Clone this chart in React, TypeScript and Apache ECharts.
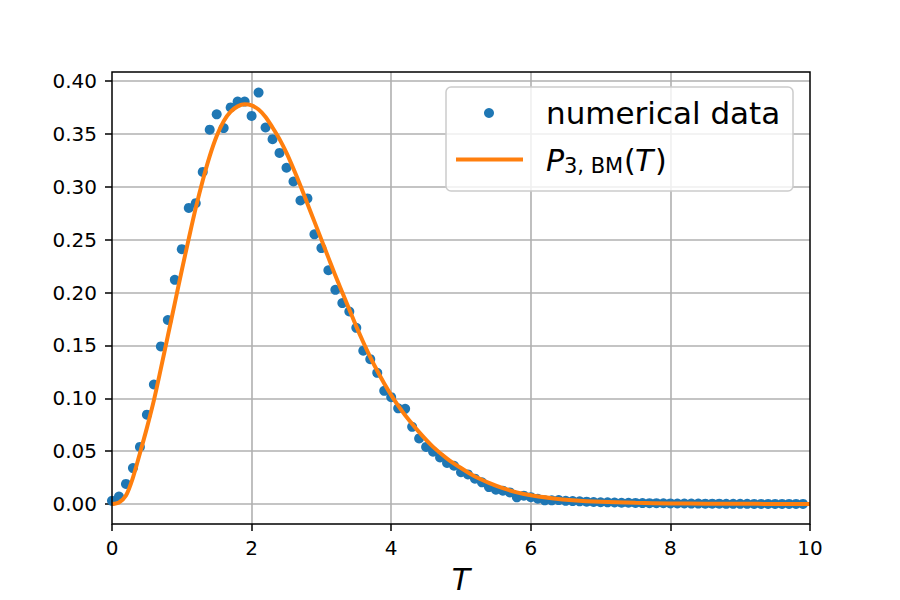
import React, { useEffect, useRef } from 'react';
import * as echarts from 'echarts';

// sample times of the numerical data
const dataT = [
  0.0, 0.1, 0.2, 0.3, 0.4, 0.5, 0.6, 0.7, 0.8, 0.9,
  1.0, 1.1, 1.2, 1.3, 1.4, 1.5, 1.6, 1.7, 1.8, 1.9,
  2.0, 2.1, 2.2, 2.3, 2.4, 2.5, 2.6, 2.7, 2.8, 2.9,
  3.0, 3.1, 3.2, 3.3, 3.4, 3.5, 3.6, 3.7, 3.8, 3.9,
  4.0, 4.1, 4.2, 4.3, 4.4, 4.5, 4.6, 4.7, 4.8, 4.9,
  5.0, 5.1, 5.2, 5.3, 5.4, 5.5, 5.6, 5.7, 5.8, 5.9,
  6.0, 6.1, 6.2, 6.3, 6.4, 6.5, 6.6, 6.7, 6.8, 6.9,
  7.0, 7.1, 7.2, 7.3, 7.4, 7.5, 7.6, 7.7, 7.8, 7.9,
  8.0, 8.1, 8.2, 8.3, 8.4, 8.5, 8.6, 8.7, 8.8, 8.9,
  9.0, 9.1, 9.2, 9.3, 9.4, 9.5, 9.6, 9.7, 9.8, 9.9,
];
// numerical data values
const dataV = [
  0.003, 0.007, 0.019, 0.034, 0.054, 0.0845, 0.113, 0.149, 0.174, 0.212,
  0.241, 0.280, 0.2845, 0.314, 0.354, 0.3685, 0.3555, 0.375, 0.3805, 0.3805,
  0.367, 0.389, 0.356, 0.345, 0.332, 0.318, 0.305, 0.287, 0.289, 0.255,
  0.242, 0.221, 0.2025, 0.190, 0.182, 0.1666, 0.145, 0.137, 0.124, 0.107,
  0.101, 0.0905, 0.090, 0.073, 0.062, 0.054, 0.0495, 0.044, 0.0388, 0.0362,
  0.030, 0.028, 0.024, 0.0205, 0.016, 0.0135, 0.0126, 0.011, 0.0063, 0.0079,
  0.0065, 0.005, 0.0035, 0.0035, 0.0037, 0.003, 0.0028, 0.0025, 0.0022, 0.0019,
  0.0017, 0.0016, 0.0014, 0.0012, 0.0012, 0.001, 0.0009, 0.0008, 0.0008, 0.0007,
  0.0006, 0.0005, 0.0005, 0.0004, 0.0004, 0.0003, 0.0003, 0.0003, 0.0002, 0.0002,
  0.0002, 0.0002, 0.0001, 0.0001, 0.0001, 0.0001, 0.0001, 0.0001, 0.0001, 0.0001,
];

// fitted curve P_{3,BM}(T)
const curveT = [
  0.0, 0.1, 0.2, 0.3, 0.4, 0.5, 0.6, 0.7, 0.8, 0.9,
  1.0, 1.1, 1.2, 1.3, 1.4, 1.5, 1.6, 1.7, 1.8, 1.9,
  2.0, 2.1, 2.2, 2.3, 2.4, 2.5, 2.6, 2.7, 2.8, 2.9,
  3.0, 3.1, 3.2, 3.3, 3.4, 3.5, 3.6, 3.7, 3.8, 3.9,
  4.0, 4.1, 4.2, 4.4, 4.6, 4.8, 5.0, 5.2, 5.4, 5.6,
  5.8, 6.0, 6.3, 6.6, 7.0, 7.5, 8.0, 8.5, 9.0, 9.5, 10.0,
];
const curveV = [
  0.0, 0.0015, 0.008, 0.025, 0.048, 0.072, 0.098, 0.128, 0.159, 0.190,
  0.221, 0.251, 0.280, 0.306, 0.329, 0.348, 0.362, 0.371, 0.376, 0.378,
  0.377, 0.373, 0.366, 0.356, 0.345, 0.332, 0.317, 0.301, 0.284, 0.267,
  0.250, 0.233, 0.216, 0.200, 0.184, 0.168, 0.153, 0.139, 0.126, 0.114,
  0.103, 0.093, 0.084, 0.068, 0.054, 0.043, 0.034, 0.026, 0.020, 0.015,
  0.011, 0.0082, 0.0055, 0.0036, 0.0021, 0.0011, 0.0006, 0.0003, 0.0002, 0.0001, 0.0001,
];

const xTicks = [0, 2, 4, 6, 8, 10];
const yTicks = [0, 0.05, 0.1, 0.15, 0.2, 0.25, 0.3, 0.35, 0.4];
const seriesNames = ['numerical data', 'P3,BM(T)'];

const FONT = 'DejaVu Sans';
const BLUE = '#1f77b4';
const ORANGE = '#ff7f0e';

export default function App() {
  const ref = useRef<HTMLDivElement>(null);
  useEffect(() => {
    const chart = echarts.init(ref.current!, null, { renderer: 'svg' });
    const scatterData = dataT.map((t, i) => [t, dataV[i]]);
    const lineData = curveT.map((t, i) => [t, curveV[i]]);
    chart.setOption({
      animation: false,
      backgroundColor: '#ffffff',
      grid: {
        left: 112,
        right: 90,
        top: 72,
        bottom: 76,
        show: true,
        borderColor: '#000000',
        borderWidth: 1.5,
        backgroundColor: 'transparent',
        z: 5,
      },
      xAxis: {
        type: 'value',
        min: xTicks[0],
        max: xTicks[xTicks.length - 1],
        interval: 2,
        name: 'T',
        nameLocation: 'middle',
        nameGap: 40,
        nameTextStyle: { fontFamily: FONT, fontSize: 30, fontStyle: 'italic', color: '#000' },
        axisLine: { show: false, onZero: false },
        axisTick: { show: true, length: 7, lineStyle: { color: '#000', width: 1.5 } },
        axisLabel: { margin: 14, fontFamily: FONT, fontSize: 20, color: '#000' },
        splitLine: { show: true, showMinLine: false, showMaxLine: false, lineStyle: { color: '#b0b0b0', width: 1.6 } },
      },
      yAxis: {
        type: 'value',
        min: -0.0189,
        max: 0.4085,
        axisLine: { show: false, onZero: false },
        axisTick: { show: true, length: 7, customValues: yTicks, lineStyle: { color: '#000', width: 1.5 } },
        axisLabel: {
          margin: 15,
          fontFamily: FONT,
          fontSize: 20,
          color: '#000',
          customValues: yTicks,
          formatter: (v: number) => v.toFixed(2),
        },
        splitLine: { show: true, lineStyle: { color: '#b0b0b0', width: 1.6 } },
      },
      series: [
        {
          name: seriesNames[0],
          type: 'scatter',
          data: scatterData,
          symbol: 'circle',
          symbolSize: 10,
          itemStyle: { color: BLUE, opacity: 1 },
          z: 3,
        },
        {
          name: seriesNames[1],
          type: 'line',
          data: lineData,
          showSymbol: false,
          smooth: 0.3,
          lineStyle: { color: ORANGE, width: 4 },
          itemStyle: { color: ORANGE },
          z: 4,
        },
      ],
      graphic: [
        {
          type: 'rect',
          z: 100,
          shape: { x: 446, y: 87, width: 347, height: 104, r: 5 },
          style: { fill: 'rgba(255,255,255,0.8)', stroke: '#cccccc', lineWidth: 1.5 },
        },
        {
          type: 'circle',
          z: 101,
          shape: { cx: 489, cy: 113, r: 5 },
          style: { fill: BLUE },
        },
        {
          type: 'line',
          z: 101,
          shape: { x1: 456, y1: 159.5, x2: 523, y2: 159.5 },
          style: { stroke: ORANGE, lineWidth: 4 },
        },
        {
          type: 'text',
          z: 101,
          style: {
            text: 'numerical data',
            x: 546, y: 113,
            fontFamily: FONT, fontSize: 31, fill: '#000',
            textAlign: 'left', textVerticalAlign: 'middle',
          },
        },
        {
          type: 'text',
          z: 101,
          style: {
            text: 'P',
            x: 546, y: 160,
            fontFamily: FONT, fontSize: 30, fontStyle: 'italic', fill: '#000',
            textAlign: 'left', textVerticalAlign: 'middle',
          },
        },
        {
          type: 'text',
          z: 101,
          style: {
            text: '3, BM',
            x: 564, y: 166,
            fontFamily: FONT, fontSize: 21, fill: '#000',
            textAlign: 'left', textVerticalAlign: 'middle',
          },
        },
        {
          type: 'text',
          z: 101,
          style: {
            text: '(',
            x: 624, y: 160,
            fontFamily: FONT, fontSize: 30, fill: '#000',
            textAlign: 'left', textVerticalAlign: 'middle',
          },
        },
        {
          type: 'text',
          z: 101,
          style: {
            text: 'T',
            x: 635, y: 160,
            fontFamily: FONT, fontSize: 30, fontStyle: 'italic', fill: '#000',
            textAlign: 'left', textVerticalAlign: 'middle',
          },
        },
        {
          type: 'text',
          z: 101,
          style: {
            text: ')',
            x: 655, y: 160,
            fontFamily: FONT, fontSize: 30, fill: '#000',
            textAlign: 'left', textVerticalAlign: 'middle',
          },
        },
      ],
    });
    return () => chart.dispose();
  }, []);
  return (
    <div
      ref={ref}
      style={{ position: 'absolute', left: 0, top: 0, width: 900, height: 600, background: '#fff' }}
    />
  );
}
